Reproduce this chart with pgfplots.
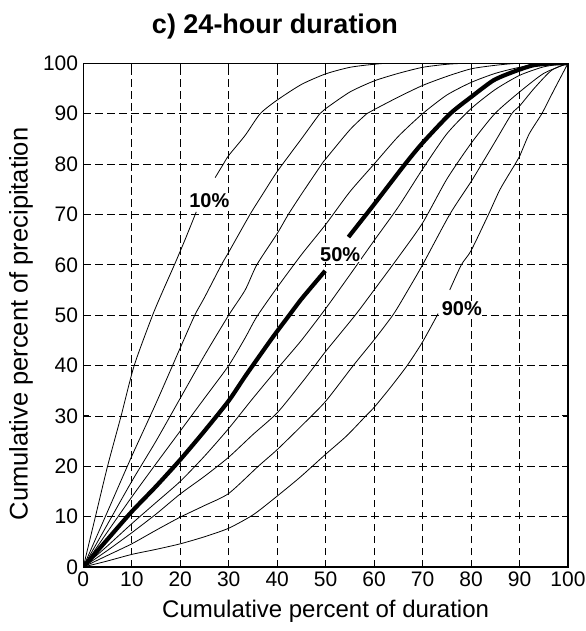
\documentclass[border=0pt]{standalone}
\usepackage{fontspec}
\setmainfont{Liberation Sans}
\usepackage{pgfplots}
\pgfplotsset{compat=1.18}
\begin{document}
\begin{tikzpicture}
\useasboundingbox (-83.3bp,-64bp) rectangle (502.7bp,567bp);
\begin{axis}[
  at={(0,0)}, anchor=south west,
  scale only axis, width=484.7bp, height=503.7bp,
  xmin=0, xmax=100, ymin=0, ymax=100,
  xtick={0,10,...,100}, ytick={0,10,...,100},
  grid=major,
  major grid style={black, line width=0.7bp, dash pattern=on 7.5bp off 4.5bp},
  axis line style={black, line width=1.5bp},
  tick align=inside, major tick length=6bp,
  tick style={black, line width=1bp},
  tick label style={font=\fontsize{21bp}{21bp}\selectfont, inner sep=0pt},
  /pgf/number format/assume math mode=true,
  xticklabel shift=5bp, yticklabel shift=5bp,
  every axis plot/.append style={smooth, tension=0.4, line join=round},
]
% 10%
\addplot[black, line width=0.8bp] coordinates {(0,0)(2.5,10)(5,20)(7.8,30)(10.5,40)(14.3,50)(16.5,55)(18.8,60)(21,65)(23.3,70.5)};
\addplot[black, line width=0.8bp] coordinates {(27.2,77.3)(28.9,80)(30,81.7)(33.4,85.7)(36.5,90)(40,92.7)(45,95.8)(50,97.9)(55,99.2)(60,99.8)(65,100)(100,100)};
% 20%
\addplot[black, line width=0.8bp] coordinates {(0,0)(5,11)(10,22)(15,32.5)(20,43.5)(23,50)(25,53.5)(28.5,60)(30,62.5)(34.4,70)(37,74)(40,78.5)(45,85)(48.8,90)(50,91)(55,94.3)(60,96.5)(65,98)(70,99.2)(75,99.8)(80,100)(100,100)};
% 30%
\addplot[black, line width=0.8bp] coordinates {(0,0)(5,8.5)(10,17)(15,25)(20,33.5)(25,42)(30,50)(33.4,55)(35.8,60)(40,66.2)(42.3,70)(45,74)(49.2,80)(50,81)(55,86.8)(58.5,90)(60,90.8)(65,93.3)(70,95.6)(75,97.4)(80,98.9)(85,99.6)(90,100)(100,100)};
% 40%
\addplot[black, line width=0.8bp] coordinates {(0,0)(5,7)(10,13.9)(15,20.5)(20,27)(25,33.5)(30,40)(33.4,45.5)(35.8,49.7)(40,55.5)(45,62)(50,68)(55,74.5)(60,80)(65,85.5)(70,90)(75,93.7)(80,96.2)(85,98)(90,99.2)(95,99.8)(100,100)};
% 50% (thick)
\addplot[black, line width=4.2bp] coordinates {(0,0)(5,5.5)(10,11)(15,16)(20,21.3)(25,27)(30,33)(33.5,38)(39,45.5)(42.5,50)(45,53.2)(49.9,58.8)};
\addplot[black, line width=4.2bp] coordinates {(54.7,65.5)(60,72)(66.4,80)(70,84.2)(75.7,90)(80,93.3)(84.6,96.6)(88.7,98.3)(92.8,99.6)(97,100)(100,100)};
% 60%
\addplot[black, line width=0.8bp] coordinates {(0,0)(5,4.2)(10,8.6)(15,12.8)(20,17)(25,22)(30,27.5)(35,33.5)(40.6,40)(45,45)(50,51.3)(55,58)(60,64.8)(65,71.5)(70,79)(75,86)(80,91)(85,94.8)(90,97.6)(95,99.3)(100,100)};
% 70%
\addplot[black, line width=0.8bp] coordinates {(0,0)(5,3.3)(10,6.8)(15,10.5)(20,14.5)(25,18)(30,21.8)(35,26.3)(40,30.6)(45,36.5)(47.8,40)(50,42.8)(56.1,50)(60,55)(65,61.5)(70,68.3)(75,77)(80,84.1)(84.9,90)(90,94.3)(95,98)(100,100)};
% 80%
\addplot[black, line width=0.8bp] coordinates {(0,0)(5,2.3)(10,4.6)(15,7.3)(20,9.9)(25,12.2)(30,14.6)(36.1,20)(40,23.3)(45,28)(50,32.9)(55.7,40)(60,45.1)(64,50.2)(67,55)(70,60)(75.6,70)(80,76.5)(82.2,80)(85,84.5)(88.4,90)(90,91.5)(93,95)(96.6,98.6)(100,100)};
% 90%
\addplot[black, line width=0.8bp] coordinates {(0,0)(5,1.2)(10,2.5)(15,3.5)(20,4.6)(25,6)(30,7.7)(35.1,10.4)(39.9,14)(44.7,17.8)(49.9,22.3)(54.3,26)(58.1,29.8)(60.1,31.8)(63.5,35.8)(66.9,40.1)(70,44.7)(73.2,50.3)};
\addplot[black, line width=0.8bp] coordinates {(75.6,55)(78,60)(80,62.8)(83.6,70)(86,75)(89.1,80)(90,81.5)(92,86)(94.6,90)(97,94.5)(100,100)};
\node[font=\fontsize{20bp}{20bp}\selectfont\bfseries, fill=white, inner sep=0.5bp] at (axis cs:26,72.7) {10\%};
\node[font=\fontsize{20bp}{20bp}\selectfont\bfseries, fill=white, inner sep=0.5bp] at (axis cs:53,62.1) {50\%};
\node[font=\fontsize{20bp}{20bp}\selectfont\bfseries, fill=white, inner sep=0.5bp] at (axis cs:78.1,51.3) {90\%};
\end{axis}
\node[anchor=base, font=\fontsize{27bp}{27bp}\selectfont\bfseries] at (191.7bp,533.5bp) {c) 24-hour duration};
\node[anchor=base, font=\fontsize{24bp}{24bp}\selectfont] at (242.35bp,-50bp) {Cumulative percent of duration};
\node[anchor=base, rotate=90, font=\fontsize{25.5bp}{25.5bp}\selectfont] at (-55.7bp,243bp) {Cumulative percent of precipitation};
\end{tikzpicture}
\end{document}
